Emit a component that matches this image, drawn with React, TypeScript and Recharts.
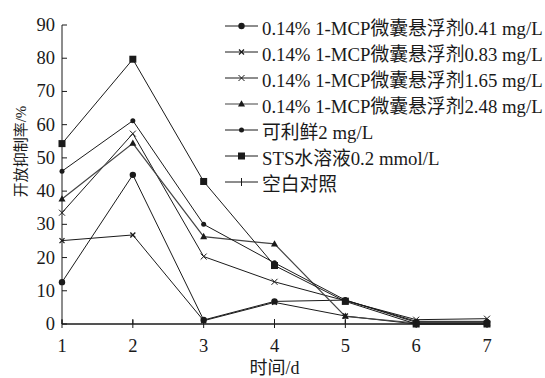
import { LineChart, Line, XAxis, YAxis } from 'recharts';

// 时间/d
const days = [1, 2, 3, 4, 5, 6, 7];
const yTicks = [0, 10, 20, 30, 40, 50, 60, 70, 80, 90];

// 开放抑制率/% per treatment
const mcp041 = [12.6, 44.9, 1.2, 6.8, 7.2, 0.5, 0.5];
const mcp083 = [25.1, 26.8, 1.0, 6.5, 2.4, 0, 0];
const mcp165 = [33.5, 57.3, 20.3, 12.7, 7.0, 1.3, 1.6];
const mcp248 = [37.6, 54.4, 26.3, 24.1, 2.3, 0.3, 0.3];
const kelixian = [46.0, 61.2, 30.0, 18.4, 7.2, 0.8, 0.8];
const sts = [54.3, 79.7, 42.9, 17.6, 6.8, 0, 0];
const blank = [0, 0, 0, 0, 0, 0, 0];

const seriesNames = [
    '0.14% 1-MCP微囊悬浮剂0.41 mg/L',
    '0.14% 1-MCP微囊悬浮剂0.83 mg/L',
    '0.14% 1-MCP微囊悬浮剂1.65 mg/L',
    '0.14% 1-MCP微囊悬浮剂2.48 mg/L',
    '可利鲜2 mg/L',
    'STS水溶液0.2 mmol/L',
    '空白对照',
];

const data = days.map((d, i) => ({
    day: d,
    s1: mcp041[i],
    s2: mcp083[i],
    s3: mcp165[i],
    s4: mcp248[i],
    s5: kelixian[i],
    s6: sts[i],
    s7: blank[i],
}));

const FONT = "'Liberation Serif', 'Noto Sans CJK SC', serif";
const INK = '#1a1a1a';

type Shape = 'circle' | 'star' | 'cross' | 'triangle' | 'dot' | 'square' | 'tick';

const series: { key: string; shape: Shape; stroke: string; width: number }[] = [
    { key: 's1', shape: 'circle', stroke: INK, width: 1 },
    { key: 's2', shape: 'star', stroke: INK, width: 1 },
    { key: 's3', shape: 'cross', stroke: INK, width: 1 },
    { key: 's4', shape: 'triangle', stroke: '#444', width: 1.2 },
    { key: 's5', shape: 'dot', stroke: INK, width: 1 },
    { key: 's6', shape: 'square', stroke: INK, width: 1 },
    { key: 's7', shape: 'tick', stroke: INK, width: 1 },
];

function Marker({ shape, cx, cy }: { shape: Shape; cx: number; cy: number }) {
    if (cx == null || cy == null) return null;
    switch (shape) {
        case 'circle':
            return <circle cx={cx} cy={cy} r={3.2} fill={INK} />;
        case 'dot':
            return <circle cx={cx} cy={cy} r={2.5} fill={INK} />;
        case 'square':
            return <rect x={cx - 3.5} y={cy - 3.5} width={7} height={7} fill={INK} />;
        case 'triangle':
            return <path d={`M${cx},${cy - 3.8} L${cx + 3.5},${cy + 2.5} L${cx - 3.5},${cy + 2.5} Z`} fill={INK} />;
        case 'star':
            return (
                <g stroke={INK} strokeWidth={1.3}>
                    <line x1={cx - 2.5} y1={cy - 2.5} x2={cx + 2.5} y2={cy + 2.5} />
                    <line x1={cx - 2.5} y1={cy + 2.5} x2={cx + 2.5} y2={cy - 2.5} />
                </g>
            );
        case 'cross':
            return (
                <g stroke={INK} strokeWidth={1}>
                    <line x1={cx - 3} y1={cy - 3} x2={cx + 3} y2={cy + 3} />
                    <line x1={cx - 3} y1={cy + 3} x2={cx + 3} y2={cy - 3} />
                </g>
            );
        case 'tick':
            return <line x1={cx} y1={cy - 4} x2={cx} y2={cy + 4} stroke={INK} strokeWidth={1} />;
    }
    return null;
}

function XTick({ x, y, payload }: any) {
    return (
        <g>
            <line x1={x} y1={y} x2={x} y2={y - 5} stroke={INK} />
            <text x={x} y={y + 28} textAnchor="middle" fontFamily={FONT} fontSize={18.5} fill={INK}>
                {payload.value}
            </text>
        </g>
    );
}

function YTick({ x, y, payload }: any) {
    return (
        <g>
            <line x1={x} y1={y} x2={x + 5} y2={y} stroke={INK} />
            <text x={x - 7} y={y + 6} textAnchor="end" fontFamily={FONT} fontSize={18.5} fill={INK}>
                {payload.value}
            </text>
        </g>
    );
}

function LegendBox() {
    return (
        <div style={{ position: 'absolute', left: 225, top: 13, fontFamily: FONT, fontSize: 18.8, color: INK }}>
            {series.map((s, i) => (
                <div key={s.key} style={{ display: 'flex', alignItems: 'center', height: 26, whiteSpace: 'nowrap' }}>
                    <svg width={37} height={26} style={{ display: 'block' }}>
                        <line x1={0} y1={13} x2={33} y2={13} stroke={s.stroke} strokeWidth={s.width} />
                        <Marker shape={s.shape} cx={16.5} cy={13} />
                    </svg>
                    <span>{seriesNames[i]}</span>
                </div>
            ))}
        </div>
    );
}

export default function App() {
    return (
        <div style={{ position: 'absolute', left: 0, top: 0, width: 545, height: 378, background: '#fff' }}>
            <LineChart width={545} height={378} data={data} margin={{ top: 25, right: 58, bottom: 0, left: 0 }}>
                <XAxis
                    dataKey="day"
                    type="number"
                    domain={[1, 7]}
                    ticks={days}
                    height={54}
                    tickSize={0}
                    tickMargin={0}
                    tickLine={false}
                    axisLine={{ stroke: INK }}
                    tick={<XTick />}
                    label={{
                        content: ({ viewBox }: any) => (
                            <text x={viewBox.x + viewBox.width / 2} y={viewBox.y + 50} textAnchor="middle"
                                fontFamily={FONT} fontSize={18} fill={INK}>时间/d</text>
                        ),
                    }}
                />
                <YAxis
                    type="number"
                    domain={[0, 90]}
                    ticks={yTicks}
                    width={62}
                    tickSize={0}
                    tickMargin={0}
                    tickLine={false}
                    axisLine={{ stroke: INK }}
                    tick={<YTick />}
                    label={{
                        content: ({ viewBox }: any) => {
                            const cx = viewBox.x + 21;
                            const cy = viewBox.y + viewBox.height / 2 - 23;
                            return (
                                <text x={cx} y={cy} transform={`rotate(-90 ${cx} ${cy})`} textAnchor="middle"
                                    dominantBaseline="central" fontFamily={FONT} fontSize={15} fill={INK}>开放抑制率/%</text>
                            );
                        },
                    }}
                />
                {series.map((s, i) => (
                    <Line
                        key={s.key}
                        type="linear"
                        dataKey={s.key}
                        name={seriesNames[i]}
                        stroke={s.stroke}
                        strokeWidth={s.width}
                        isAnimationActive={false}
                        dot={(p: any) => <Marker key={`${s.key}-${p.index}`} shape={s.shape} cx={p.cx} cy={p.cy} />}
                        activeDot={false}
                    />
                ))}
            </LineChart>
            <LegendBox />
        </div>
    );
}
